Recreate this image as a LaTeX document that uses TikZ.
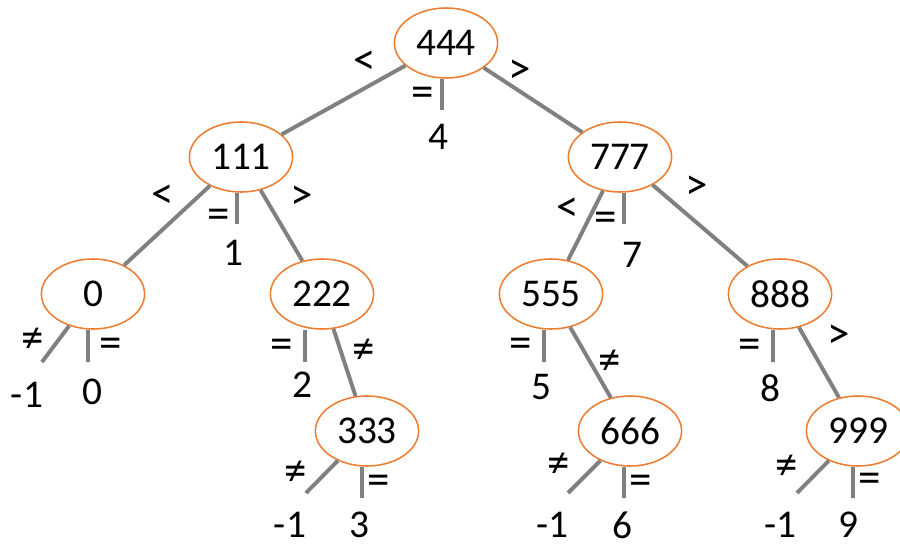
\documentclass[tikz,border=0pt]{standalone}
\usepackage{fontspec}
\setmainfont{Carlito}
\usepackage{tikz}
\usetikzlibrary{shapes.geometric,positioning}
\definecolor{nodeorange}{RGB}{237,125,49}
\definecolor{linkgray}{RGB}{128,128,128}

\begin{document}
\begin{tikzpicture}[
  x=0.025cm, y=-0.025cm,
  font=\fontsize{28}{32}\selectfont,
  bst/.style={ellipse, draw=nodeorange, line width=1.1pt, fill=white, minimum width=2.58cm, minimum height=1.75cm, inner sep=0pt},
  link/.style={draw=linkgray, line width=2.8pt},
  sym/.style={inner sep=0pt, font=\fontsize{32}{36}\selectfont},
  leaf/.style={inner sep=0pt}
]
\clip (0,0) rectangle (900,546);
\node[bst] (n444) at (446,43) {444};
\node[bst] (n111) at (241,157) {111};
\node[bst] (n777) at (620,157) {777};
\node[bst] (n0) at (93,294) {0};
\node[bst] (n222) at (322,294) {222};
\node[bst] (n555) at (551,294) {555};
\node[bst] (n888) at (780,294) {888};
\node[bst] (n333) at (367,431) {333};
\node[bst] (n666) at (630,431) {666};
\node[bst] (n999) at (858,431) {999};
\coordinate (s4) at (442,110);
\coordinate (s1) at (237,224);
\coordinate (s7) at (624,224);
\coordinate (s0) at (88,362);
\coordinate (s2) at (305,362);
\coordinate (s5) at (544,362);
\coordinate (s8) at (773,362);
\coordinate (s3) at (362,498);
\coordinate (s6) at (624,498);
\coordinate (s9) at (853,498);
\coordinate (m0) at (42,362);
\coordinate (m3) at (306,493);
\coordinate (m6) at (568,493);
\coordinate (m9) at (797,493);
\draw[link] (n444) -- (n111);
\draw[link] (n444) -- (n777);
\draw[link] (n111) -- (n0);
\draw[link] (n111) -- (n222);
\draw[link] (n777) -- (n555);
\draw[link] (n777) -- (n888);
\draw[link] (n222) -- (n333);
\draw[link] (n555) -- (n666);
\draw[link] (n888) -- (n999);
\draw[link] (s4 |- n444.south) -- (s4);
\draw[link] (s1 |- n111.south) -- (s1);
\draw[link] (s7 |- n777.south) -- (s7);
\draw[link] (s0 |- n0.south) -- (s0);
\draw[link] (s2 |- n222.south) -- (s2);
\draw[link] (s5 |- n555.south) -- (s5);
\draw[link] (s8 |- n888.south) -- (s8);
\draw[link] (s3 |- n333.south) -- (s3);
\draw[link] (s6 |- n666.south) -- (s6);
\draw[link] (s9 |- n999.south) -- (s9);
\draw[link] (n0) -- (m0);
\draw[link] (n333) -- (m3);
\draw[link] (n666) -- (m6);
\draw[link] (n999) -- (m9);
\node[sym] (lt444) at (365,63) {<};
\node[sym] (gt444) at (520,72) {>};
\node[sym] (eq444) at (423,97) {=};
\node[sym] (lt111) at (163,197) {<};
\node[sym] (eq111) at (219,219) {=};
\node[sym] (gt111) at (302,198) {>};
\node[sym] (lt777) at (568,210) {<};
\node[sym] (eq777) at (606,222) {=};
\node[sym] (gt777) at (697,188) {>};
\node[sym] (ne0) at (33,340) {≠};
\node[sym] (eq0) at (111,348) {=};
\node[sym] (eq222) at (282,349) {=};
\node[sym] (ne222) at (364,351) {≠};
\node[sym] (eq555) at (521,348) {=};
\node[sym] (ne555) at (610,362) {≠};
\node[sym] (eq888) at (750,349) {=};
\node[sym] (gt888) at (839,337) {>};
\node[sym] (ne333) at (296,473) {≠};
\node[sym] (eq333) at (379,485) {=};
\node[sym] (ne666) at (559,465) {≠};
\node[sym] (eq666) at (641,485) {=};
\node[sym] (ne999) at (787,467) {≠};
\node[sym] (eq999) at (870,483) {=};
\node[leaf] (r4) at (438,137) {4};
\node[leaf] (r1) at (233,253) {1};
\node[leaf] (r7) at (632,255) {7};
\node[leaf] (r0m) at (27,395) {-1};
\node[leaf] (r0) at (92,392) {0};
\node[leaf] (r2) at (302,385) {2};
\node[leaf] (r5) at (541,387) {5};
\node[leaf] (r8) at (770,388) {8};
\node[leaf] (r3m) at (290,525) {-1};
\node[leaf] (r3) at (359,525) {3};
\node[leaf] (r6m) at (552,525) {-1};
\node[leaf] (r6) at (622,525) {6};
\node[leaf] (r9m) at (780,525) {-1};
\node[leaf] (r9) at (848,525) {9};
\end{tikzpicture}
\end{document}
